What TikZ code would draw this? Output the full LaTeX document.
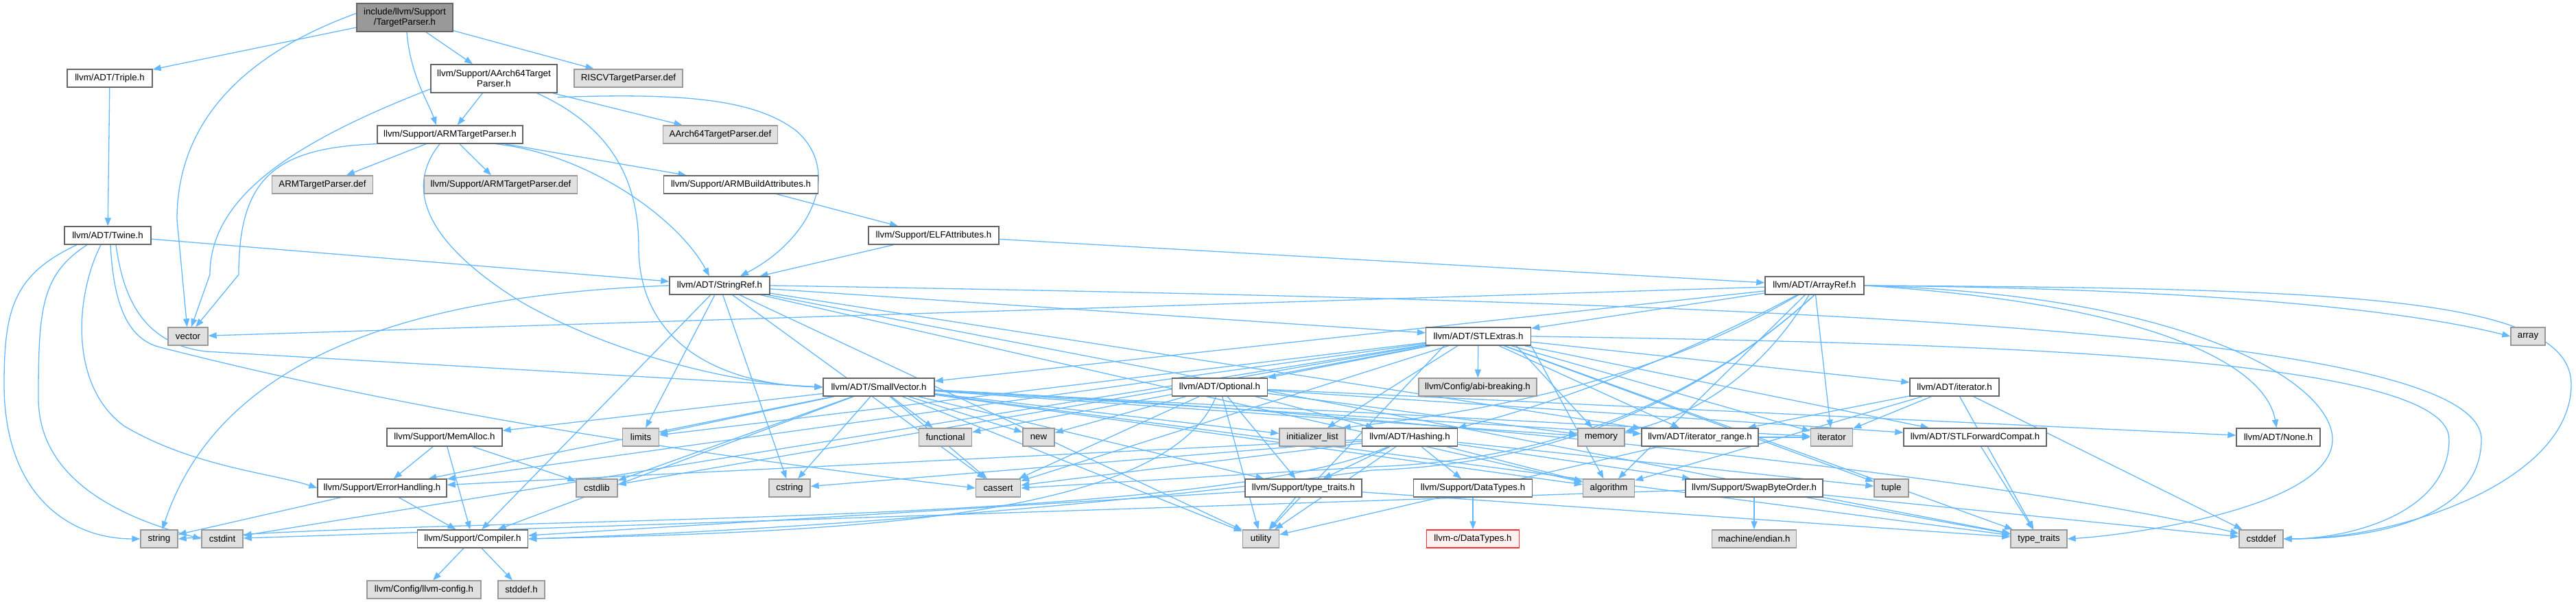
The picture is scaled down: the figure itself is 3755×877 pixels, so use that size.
\documentclass[tikz,border=0pt]{standalone}
\usepackage{fontspec}
\setmainfont{Liberation Sans}
\usetikzlibrary{arrows.meta,backgrounds}
\definecolor{edgec}{HTML}{63B8FF}
\definecolor{bord}{HTML}{666666}
\definecolor{gbord}{HTML}{999999}
\definecolor{gfill}{HTML}{E0E0E0}
\definecolor{tpfill}{HTML}{999999}
\definecolor{redb}{HTML}{FF3333}
\definecolor{redf}{HTML}{FFF0F0}
\begin{document}
\begin{tikzpicture}[x=1pt,y=-1pt,
  font=\fontsize{13.3}{15}\selectfont,
  box/.style={draw=bord,fill=white,line width=1.4pt,minimum height=26pt,inner xsep=3pt,inner ysep=0pt,anchor=center},
  gbox/.style={box,draw=gbord,fill=gfill},
  e/.style={draw=edgec,line width=1.3pt,-{Triangle[length=12pt,width=9pt]}}]
\useasboundingbox (0,0) rectangle (3755,877);
% nodes
\node[box,fill=tpfill,minimum width=140pt,minimum height=41pt,align=center] (tp) at (590,25.5) {include/llvm/Support\\/TargetParser.h};
\node[box,minimum width=124pt] (triple) at (160,114) {llvm/ADT/Triple.h};
\node[box,minimum width=184pt,minimum height=41pt,align=center] (aarch) at (720,114.5) {llvm/Support/AArch64Target\\Parser.h};
\node[gbox,minimum width=158pt] (riscv) at (916,114) {RISCVTargetParser.def};
\node[box,minimum width=212pt] (arm) at (656,196) {llvm/Support/ARMTargetParser.h};
\node[gbox,minimum width=167pt] (aarchdef) at (1050,196) {AArch64TargetParser.def};
\node[gbox,minimum width=147pt] (armdef) at (470,269) {ARMTargetParser.def};
\node[gbox,minimum width=223pt] (sarmdef) at (730,269) {llvm/Support/ARMTargetParser.def};
\node[box,minimum width=225pt] (armba) at (1080,269) {llvm/Support/ARMBuildAttributes.h};
\node[box,minimum width=126pt] (twine) at (157,343) {llvm/ADT/Twine.h};
\node[box,minimum width=190pt] (elf) at (1361,343) {llvm/Support/ELFAttributes.h};
\node[box,minimum width=146pt] (stringref) at (1049,416) {llvm/ADT/StringRef.h};
\node[box,minimum width=144pt] (arrayref) at (2645,416) {llvm/ADT/ArrayRef.h};
\node[gbox,minimum width=58pt] (vector) at (274,490) {vector};
\node[box,minimum width=153pt] (stlextras) at (2155,490) {llvm/ADT/STLExtras.h};
\node[gbox,minimum width=50pt] (array) at (3685,490) {array};
\node[box,minimum width=162pt] (smallvec) at (1281,564) {llvm/ADT/SmallVector.h};
\node[box,minimum width=139pt] (optional) at (1778,564) {llvm/ADT/Optional.h};
\node[gbox,minimum width=172pt] (abi) at (2154,564) {llvm/Config/abi-breaking.h};
\node[box,minimum width=130pt] (iter) at (2849,564) {llvm/ADT/iterator.h};
\node[box,minimum width=168pt] (memalloc) at (648,637) {llvm/Support/MemAlloc.h};
\node[gbox,minimum width=53pt] (limits) at (934,637) {limits};
\node[gbox,minimum width=77pt] (functional) at (1378,637) {functional};
\node[gbox,minimum width=46pt] (new) at (1514,637) {new};
\node[gbox,minimum width=96pt] (initlist) at (1913,637) {initializer\_list};
\node[box,minimum width=139pt] (hashing) at (2055,637) {llvm/ADT/Hashing.h};
\node[gbox,minimum width=68pt] (memory) at (2334,637) {memory};
\node[box,minimum width=170pt] (iterrange) at (2478,637) {llvm/ADT/iterator\_range.h};
\node[gbox,minimum width=61pt] (iterator) at (2670,637) {iterator};
\node[box,minimum width=208pt] (stlfwd) at (2879,637) {llvm/ADT/STLForwardCompat.h};
\node[box,minimum width=122pt] (none) at (3321,637) {llvm/ADT/None.h};
\node[box,minimum width=188pt] (errh) at (557,711) {llvm/Support/ErrorHandling.h};
\node[gbox,minimum width=60pt] (cstdlib) at (870,711) {cstdlib};
\node[gbox,minimum width=60pt] (cstring) at (1151,711) {cstring};
\node[gbox,minimum width=65pt] (cassert) at (1455,711) {cassert};
\node[box,minimum width=170pt] (stypetraits) at (1900,711) {llvm/Support/type\_traits.h};
\node[box,minimum width=173pt] (datatypes) at (2147,711) {llvm/Support/DataTypes.h};
\node[gbox,minimum width=75pt] (algorithm) at (2345,711) {algorithm};
\node[box,minimum width=200pt] (swap) at (2557,711) {llvm/Support/SwapByteOrder.h};
\node[gbox,minimum width=50pt] (tuple) at (2757,711) {tuple};
\node[gbox,minimum width=54pt] (string) at (232,785) {string};
\node[gbox,minimum width=60pt] (cstdint) at (324,785) {cstdint};
\node[box,minimum width=161pt] (compiler) at (689,785) {llvm/Support/Compiler.h};
\node[gbox,minimum width=53pt] (utility) at (1838,785) {utility};
\node[box,draw=redb,fill=redf,minimum width=135pt] (cdatatypes) at (2147,785) {llvm-c/DataTypes.h};
\node[gbox,minimum width=123pt] (endian) at (2557,785) {machine/endian.h};
\node[gbox,minimum width=82pt] (typetraits) at (2972,785) {type\_traits};
\node[gbox,minimum width=64pt] (cstddef) at (3296,785) {cstddef};
\node[gbox,minimum width=166pt] (llvmconfig) at (618,859) {llvm/Config/llvm-config.h};
\node[gbox,minimum width=68pt] (stddef) at (760,859) {stddef.h};
% edges
\begin{pgfonlayer}{background}
% TargetParser
\draw[e] (tp) -- (triple);
\draw[e] (tp) -- (aarch);
\draw[e] (tp) -- (riscv);
\draw[e] ([xshift=3pt]tp.south) .. controls (598,110) and (625,150) .. ([xshift=-20pt]arm.north);
\draw[e] ([yshift=6pt]tp.west) .. controls (380,70) and (258,160) .. (258,320) -- (vector);
% Triple
\draw[e] (triple) -- (twine);
% AArch64TargetParser
\draw[e] (aarch) -- (arm);
\draw[e] (aarch) -- (aarchdef);
\draw[e] ([yshift=-6pt]aarch.south east) .. controls (1000,135) and (1100,145) .. (1160,190) .. controls (1230,250) and (1180,350) .. ([xshift=30pt]stringref.north);
\draw[e] ([xshift=-30pt]aarch.south east) .. controls (880,180) and (931,250) .. (931,360) .. controls (931,500) and (1050,560) .. (smallvec.west);
\draw[e] ([yshift=6pt]aarch.south west) .. controls (420,210) and (306,290) .. (306,400) -- (vector);
% ARMTargetParser
\draw[e] (arm) -- (armdef);
\draw[e] (arm) -- (sarmdef);
\draw[e] (arm) -- (armba);
\draw[e] ([xshift=-40pt]arm.south east) .. controls (860,225) and (990,320) .. ([xshift=-15pt]stringref.north);
\draw[e] ([xshift=-15pt]arm.south) .. controls (585,280) and (630,360) .. (760,440) .. controls (900,520) and (1080,560) .. (smallvec.west);
\draw[e] (arm.south west) .. controls (400,215) and (348,260) .. (348,400) -- (vector);
% ARMBuildAttributes, ELFAttributes
\draw[e] (armba) -- (elf);
\draw[e] (elf) -- (stringref);
\draw[e] (elf) -- (arrayref);
% Twine
\draw[e] (twine) -- (stringref);
\draw[e] ([xshift=12pt]twine.south) .. controls (178,420) and (200,500) .. (300,512) -- (smallvec.west);
\draw[e] ([xshift=4pt]twine.south) .. controls (165,430) and (180,490) .. (230,505) .. controls (600,600) and (1000,660) .. (cassert.west);
\draw[e] ([xshift=-10pt]twine.south) .. controls (110,430) and (100,560) .. (180,620) .. controls (280,680) and (400,690) .. (errh.west);
\draw[e] ([xshift=-30pt]twine.south) .. controls (60,400) and (56,450) .. (56,580) .. controls (56,710) and (200,760) .. (cstdint.west);
\draw[e] ([xshift=-45pt]twine.south) .. controls (20,400) and (6,450) .. (6,560) .. controls (6,720) and (100,785) .. (string.west);
% StringRef
\draw[e] (stringref) -- (stlextras);
\draw[e] (stringref) -- (iterrange);
\draw[e] (stringref) -- (compiler);
\draw[e] (stringref) -- (algorithm);
\draw[e] (stringref) -- (cassert);
\draw[e] (stringref) -- (cstring);
\draw[e] (stringref) -- (limits);
\draw[e] (stringref.west) .. controls (600,430) and (320,520) .. (string);
\draw[e] (stringref) -- (typetraits);
\draw[e] (stringref) -- (utility);
\draw[e] (stringref.east) .. controls (2600,440) and (3617,480) .. (3617,640) .. controls (3617,760) and (3450,785) .. (cstddef.east);
% ArrayRef
\draw[e] (arrayref) .. controls (2450,520) and (2260,590) .. (hashing.north east);
\draw[e] (arrayref.east) .. controls (3100,440) and (3300,520) .. (none);
\draw[e] (arrayref) -- (smallvec);
\draw[e] (arrayref) -- (stlextras);
\draw[e] (arrayref.south) .. controls (2500,560) and (2300,675) .. (2000,685) .. controls (1600,740) and (1100,775) .. (compiler.east);
\draw[e] (arrayref) -- (algorithm);
\draw[e] (arrayref.east) .. controls (3200,420) and (3500,450) .. (array.west);
\draw[e] (arrayref.south) .. controls (2500,560) and (2300,670) .. (2000,680) -- (cassert.east);
\draw[e] (arrayref.east) .. controls (3400,420) and (3748,430) .. (3748,560) .. controls (3748,700) and (3500,785) .. (cstddef.east);
\draw[e] (arrayref) .. controls (2450,530) and (2250,590) .. ([xshift=-5pt]initlist.north east);
\draw[e] (arrayref) -- (iterator);
\draw[e] (arrayref) .. controls (2560,560) and (2450,610) .. (memory);
\draw[e] (arrayref.east) .. controls (3200,430) and (3400,560) .. (3400,640) .. controls (3400,740) and (3100,780) .. (typetraits.east);
\draw[e] (arrayref) -- (vector);
% STLExtras
\draw[e] (stlextras) -- (optional);
\draw[e] (stlextras) -- (stlfwd);
\draw[e] (stlextras) -- (iter);
\draw[e] (stlextras) -- (iterrange);
\draw[e] (stlextras) -- (abi);
\draw[e] (stlextras) -- (errh);
\draw[e] (stlextras.south east) -- (algorithm);
\draw[e] (stlextras) -- (cassert);
\draw[e] (stlextras.east) .. controls (2900,500) and (3570,520) .. (3570,640) .. controls (3570,750) and (3420,785) .. (cstddef.east);
\draw[e] (stlextras) -- (cstdint);
\draw[e] (stlextras) -- (cstdlib);
\draw[e] (stlextras) -- (functional);
\draw[e] ([xshift=-30pt]stlextras.south) -- (initlist);
\draw[e] (stlextras) -- (iterator);
\draw[e] (stlextras) -- (limits);
\draw[e] ([xshift=55pt]stlextras.south) -- (memory);
\draw[e] (stlextras) -- (tuple);
\draw[e] (stlextras) -- (typetraits);
\draw[e] ([xshift=-50pt]stlextras.south) -- (utility);
% SmallVector
\draw[e] (smallvec) -- (iterrange);
\draw[e] (smallvec) -- (compiler);
\draw[e] (smallvec) -- (errh);
\draw[e] (smallvec) -- (memalloc);
\draw[e] (smallvec) -- (stypetraits);
\draw[e] (smallvec) -- (algorithm);
\draw[e] (smallvec) -- (cassert);
\draw[e] (smallvec) .. controls (2000,600) and (2900,690) .. (cstddef);
\draw[e] (smallvec) -- (cstdlib);
\draw[e] (smallvec) -- (cstring);
\draw[e] (smallvec) -- (functional);
\draw[e] (smallvec) -- (initlist);
\draw[e] (smallvec) -- (iterator);
\draw[e] (smallvec) -- (limits);
\draw[e] (smallvec) -- (memory);
\draw[e] (smallvec) -- (new);
\draw[e] (smallvec) -- (typetraits);
\draw[e] (smallvec) -- (utility);
% Optional
\draw[e] (optional) -- (hashing);
\draw[e] (optional) -- (none);
\draw[e] (optional) -- (stlfwd);
\draw[e] (optional) .. controls (1700,760) and (1200,775) .. (compiler.east);
\draw[e] (optional) -- (stypetraits);
\draw[e] (optional) -- (cassert);
\draw[e] (optional) -- (memory);
\draw[e] (optional) -- (new);
\draw[e] (optional) -- (utility);
% iterator.h
\draw[e] (iter) -- (iterrange);
\draw[e] (iter) -- (algorithm);
\draw[e] (iter) -- (cstddef);
\draw[e] (iter) -- (iterator);
\draw[e] (iter) -- (typetraits);
% iterator_range
\draw[e] (iterrange) -- (iterator);
\draw[e] (iterrange) -- (utility);
% Hashing
\draw[e] (hashing) -- (datatypes);
\draw[e] (hashing) -- (errh);
\draw[e] (hashing) -- (swap);
\draw[e] (hashing) -- (stypetraits);
\draw[e] (hashing) -- (algorithm);
\draw[e] (hashing) -- (cassert);
\draw[e] (hashing) -- (cstring);
\draw[e] (hashing) .. controls (1750,770) and (700,750) .. (string.east);
\draw[e] (hashing) -- (tuple);
\draw[e] (hashing) -- (utility);
% misc
\draw[e] (stlfwd) -- (typetraits);
\draw[e] (memalloc) -- (compiler);
\draw[e] (memalloc) -- (errh);
\draw[e] (memalloc) -- (cstdlib);
\draw[e] (errh) -- (compiler);
\draw[e] (errh) -- (string);
\draw[e] (stypetraits) -- (compiler);
\draw[e] (stypetraits) -- (typetraits);
\draw[e] (stypetraits) -- (utility);
\draw[e] (datatypes) -- (cdatatypes);
\draw[e] (swap) -- (cstddef);
\draw[e] (swap) -- (cstdint);
\draw[e] (swap) -- (typetraits);
\draw[e] (swap) -- (endian);
\draw[e] (compiler) -- (llvmconfig);
\draw[e] (compiler) -- (stddef);
\end{pgfonlayer}
\end{tikzpicture}
\end{document}
